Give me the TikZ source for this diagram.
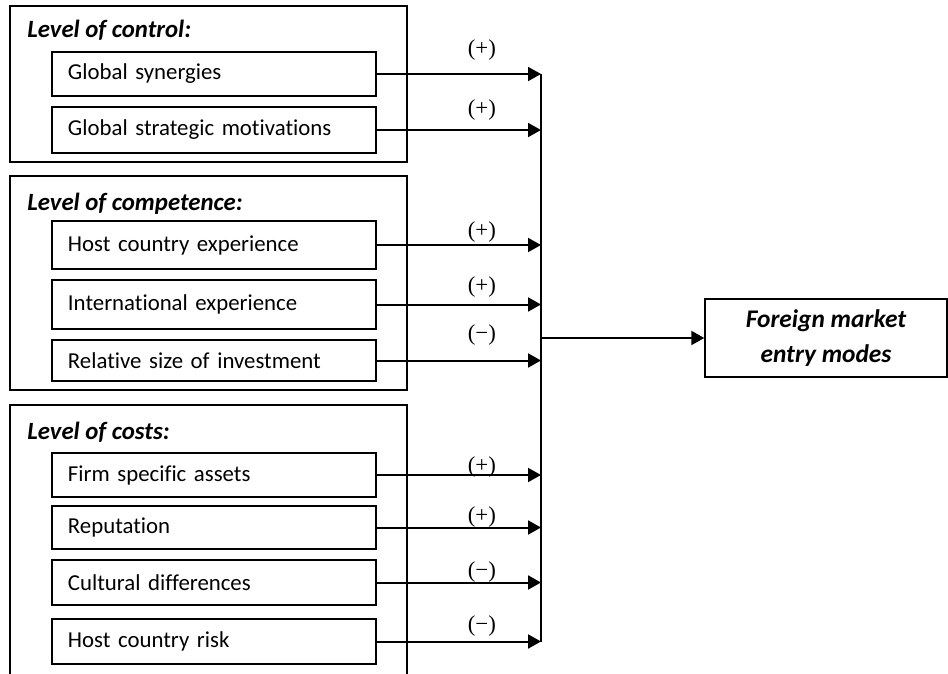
\documentclass[tikz,border=0pt]{standalone}
\usepackage{fontspec}
\setmainfont{Carlito}[Ligatures=NoCommon]
\newfontfamily\signfont{Liberation Serif}
\usetikzlibrary{arrows.meta}
\usetikzlibrary{positioning}

\begin{document}
\begin{tikzpicture}[x=0.5pt,y=-0.5pt,font=\fontsize{11.4}{13.7}\selectfont,
  factor node/.style={rectangle,draw,line width=0.7pt,text width=146pt,align=left,
    inner xsep=8pt,inner ysep=0pt},
  group box/.style={draw,line width=0.7pt,-},
  group title/.style={anchor=base west,inner sep=0pt,font=\fontsize{12.4}{14.9}\selectfont\bfseries\itshape},
  link/.style={-{Triangle[length=6.5pt,width=7pt]},line width=1pt},
  sign/.style={pos=0.64,font=\fontsize{11.4}{13.7}\selectfont\signfont,inner sep=0pt}]

  \useasboundingbox (0,0) rectangle (948,674);

  % the three groups
  \draw[group box] (10,6) rectangle (407,162);
  \draw[group box] (10,176) rectangle (407,390);
  \draw[group box] (10,680) |- (407,405) -- (407,680);

  \node[group title] (t1) at (27,38) {Level of control:};
  \node[group title] (t2) at (27,210) {Level of competence:};
  \node[group title] (t3) at (27,439) {Level of costs:};

  \node[factor node,minimum height=22pt] (1) at (214,74) {Global synergies};
  \node[factor node,minimum height=23pt] (2) at (214,130) {Global strategic motivations};
  \node[factor node,minimum height=24pt] (3) at (214,245) {Host country experience};
  \node[factor node,minimum height=24.5pt] (4) at (214,304.5) {International experience};
  \node[factor node,minimum height=20.5pt] (5) at (214,360.5) {Relative size of investment};
  \node[factor node,minimum height=22pt] (6) at (214,475) {Firm specific assets};
  \node[factor node,minimum height=21.5pt] (7) at (214,527.5) {Reputation};
  \node[factor node,minimum height=22.5pt] (8) at (214,582.5) {Cultural differences};
  \node[factor node,minimum height=22.5pt] (9) at (214,641.5) {Host country risk};

  \node[rectangle,draw,line width=0.7pt,minimum width=121pt,minimum height=39pt,align=center,
    font=\fontsize{12.7}{17.5}\selectfont\bfseries\itshape] (10) at (826,338)
    {Foreign market\\entry modes};

  \coordinate (bus top) at (541,74);
  \coordinate (bus bottom) at (541,641.5);
  \draw[line width=1pt] (bus top) -- (bus bottom);

  \path[link]
    (1) edge node[sign,yshift=12pt] {(+)} (1 -| bus top)
    (2) edge node[sign,yshift=10pt] {(+)} (2 -| bus top)
    (3) edge node[sign,yshift=6.5pt] {(+)} (3 -| bus top)
    (4) edge node[sign,yshift=8.5pt] {(+)} (4 -| bus top)
    (5) edge node[sign,yshift=12.5pt] {(−)} (5 -| bus top)
    (6) edge node[sign,yshift=4pt] {(+)} (6 -| bus top)
    (7) edge node[sign,yshift=5pt] {(+)} (7 -| bus top)
    (8) edge node[sign,yshift=5pt] {(−)} (8 -| bus top)
    (9) edge node[sign,yshift=7.5pt] {(−)} (9 -| bus top);

  \draw[link] (10.west -| bus top) -- (10);
\end{tikzpicture}
\end{document}
